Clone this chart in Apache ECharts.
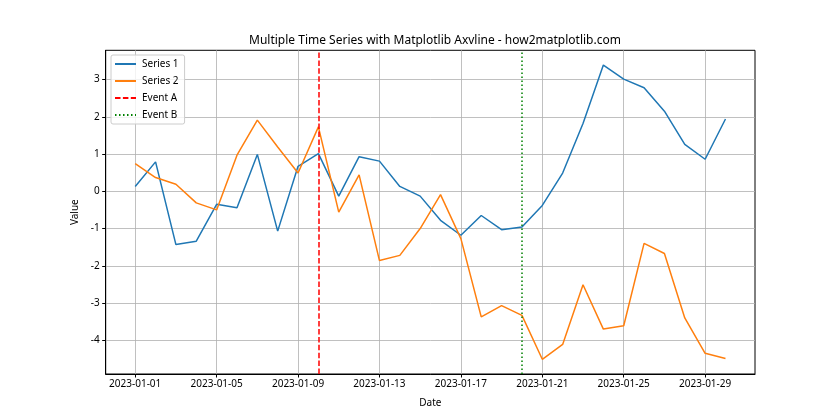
<!DOCTYPE html>
<html>
<head>
<meta charset="utf-8">
<script src="https://cdn.jsdelivr.net/npm/echarts@6/dist/echarts.min.js"></script>
<style>html,body{margin:0;padding:0;background:#fff}#c{width:840px;height:420px}</style>
</head>
<body>
<div id="c"></div>
<script>
var dates = ['2023-01-01','2023-01-02','2023-01-03','2023-01-04','2023-01-05','2023-01-06','2023-01-07','2023-01-08','2023-01-09','2023-01-10',
  '2023-01-11','2023-01-12','2023-01-13','2023-01-14','2023-01-15','2023-01-16','2023-01-17','2023-01-18','2023-01-19','2023-01-20',
  '2023-01-21','2023-01-22','2023-01-23','2023-01-24','2023-01-25','2023-01-26','2023-01-27','2023-01-28','2023-01-29','2023-01-30'];
var series1 = [0.13,0.79,-1.43,-1.34,-0.35,-0.44,0.99,-1.07,0.67,1.01,
  -0.13,0.93,0.81,0.13,-0.13,-0.78,-1.18,-0.65,-1.03,-0.96,
  -0.38,0.49,1.82,3.39,3.01,2.78,2.15,1.26,0.86,1.94];
var series2 = [0.74,0.37,0.19,-0.31,-0.50,0.97,1.91,1.19,0.49,1.73,
  -0.56,0.44,-1.86,-1.72,-1.00,-0.09,-1.27,-3.37,-3.07,-3.33,
  -4.51,-4.11,-2.51,-3.70,-3.61,-1.40,-1.67,-3.40,-4.35,-4.49];
var xTickDates = ['2023-01-01','2023-01-05','2023-01-09','2023-01-13','2023-01-17','2023-01-21','2023-01-25','2023-01-29'];
var yTicks = [-4,-3,-2,-1,0,1,2,3];
var eventADate = '2023-01-10';
var eventBDate = '2023-01-20';

var idx = function(d){ return dates.indexOf(d); };
var xTickIdx = xTickDates.map(idx);
var n = dates.length;
var yMinData = Math.min.apply(null, series1.concat(series2));
var yMaxData = Math.max.apply(null, series1.concat(series2));
var yPad = (yMaxData - yMinData) * 0.05;
var xPad = (n - 1) * 0.05;
var font = 'Noto Sans, sans-serif';

var chart = echarts.init(document.getElementById('c'), null, {renderer: 'canvas'});
chart.setOption({
  animation: false,
  backgroundColor: '#fff',
  title: {
    text: 'Multiple Time Series with Matplotlib Axvline - how2matplotlib.com',
    left: 430, top: 30, textAlign: 'center',
    textStyle: {fontFamily: font, fontSize: 12, fontWeight: 'normal', color: '#000'}
  },
  legend: {
    orient: 'vertical', left: 111, top: 55,
    padding: [4, 6, 4, 3],
    itemWidth: 21, itemHeight: 10, itemGap: 7,
    backgroundColor: 'rgba(255,255,255,0.8)',
    borderColor: '#ccc', borderWidth: 1, borderRadius: 2,
    itemStyle: {opacity: 0},
    textStyle: {fontFamily: font, fontSize: 10, color: '#000', padding: [0,0,0,1]},
    data: ['Series 1','Series 2','Event A','Event B']
  },
  grid: {
    left: 105.7, right: 85, top: 50.3, bottom: 46,
    show: true, borderColor: '#000', borderWidth: 1, backgroundColor: 'transparent'
  },
  xAxis: {
    type: 'value', min: -xPad, max: (n - 1) + xPad,
    name: 'Date', nameLocation: 'middle', nameGap: 24,
    nameTextStyle: {fontFamily: font, fontSize: 10, color: '#000'},
    axisLine: {show: true, onZero: false, lineStyle: {color: '#000', width: 1}},
    axisTick: {show: true, length: 3.5, lineStyle: {color: '#000'}, customValues: xTickIdx},
    axisLabel: {customValues: xTickIdx, fontFamily: font, fontSize: 10, color: '#000', margin: 5,
      formatter: function(v){ return dates[Math.round(v)] || ''; }},
    splitLine: {show: true, lineStyle: {color: '#b0b0b0', width: 0.8}}
  },
  yAxis: {
    type: 'value', min: yMinData - yPad, max: yMaxData + yPad,
    name: 'Value', nameLocation: 'middle', nameGap: 21, nameRotate: 90,
    nameTextStyle: {fontFamily: font, fontSize: 10, color: '#000'},
    axisLine: {show: true, onZero: false, lineStyle: {color: '#000', width: 1}},
    axisTick: {show: true, length: 3.5, lineStyle: {color: '#000'}, customValues: yTicks},
    axisLabel: {customValues: yTicks, fontFamily: font, fontSize: 10, color: '#000', margin: 6},
    splitLine: {show: true, lineStyle: {color: '#b0b0b0', width: 0.8}}
  },
  series: [
    {name: 'Series 1', type: 'line', symbol: 'none', z: 3,
      lineStyle: {color: '#1f77b4', width: 1.5}, itemStyle: {color: '#1f77b4'},
      data: series1.map(function(v, i){ return [i, v]; })},
    {name: 'Series 2', type: 'line', symbol: 'none', z: 3,
      lineStyle: {color: '#ff7f0e', width: 1.5}, itemStyle: {color: '#ff7f0e'},
      data: series2.map(function(v, i){ return [i, v]; })},
    {name: 'Event A', type: 'line', symbol: 'none', z: 4, data: [],
      lineStyle: {color: '#ff0000', width: 1.5, type: [5.5, 2.4]}, itemStyle: {color: '#ff0000'},
      markLine: {silent: true, symbol: 'none', label: {show: false},
        lineStyle: {color: '#ff0000', width: 1.5, type: [5.5, 2.4]},
        data: [{xAxis: idx(eventADate)}]}},
    {name: 'Event B', type: 'line', symbol: 'none', z: 4, data: [],
      lineStyle: {color: '#008000', width: 1.5, type: [1.5, 2.5]}, itemStyle: {color: '#008000'},
      markLine: {silent: true, symbol: 'none', label: {show: false},
        lineStyle: {color: '#008000', width: 1.5, type: [1.5, 2.5]},
        data: [{xAxis: idx(eventBDate)}]}}
  ]
});
</script>
</body>
</html>
